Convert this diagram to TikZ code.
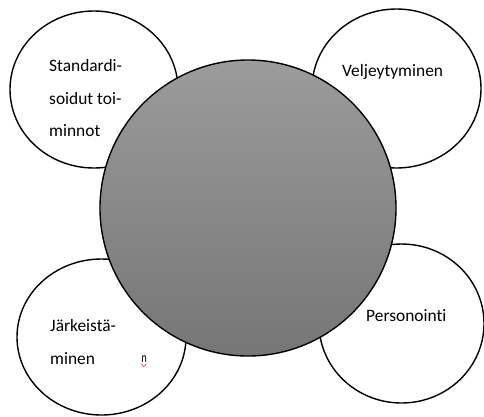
\documentclass[tikz,border=0pt]{standalone}
\usepackage{fontspec}
\setmainfont[Ligatures=NoCommon]{Carlito}
\usetikzlibrary{shapes.geometric}
\definecolor{gtop}{RGB}{155,155,155}
\definecolor{gbot}{RGB}{118,118,118}
\definecolor{squig}{RGB}{235,60,60}
\tikzset{
  bubble/.style={ellipse, draw=black, line width=1.4pt, fill=white, inner sep=0pt},
  hub/.style={circle, draw=black, line width=1.4pt, inner sep=0pt, top color=gtop, bottom color=gbot, minimum size=296pt},
  txt/.style={anchor=base west, inner sep=0pt, font=\fontsize{17.4}{20}\selectfont, text=black},
}
\begin{document}
\begin{tikzpicture}[x=1pt, y=-1pt]
\useasboundingbox (0,0) rectangle (484,416);
\fill[white] (0,0) rectangle (484,416);
% outer bubbles
\node[bubble, minimum width=168pt, minimum height=157pt] (tl) at (94,89.5) {};
\node[bubble, minimum width=169pt, minimum height=159pt] (tr) at (396.5,88.5) {};
\node[bubble, minimum width=169pt, minimum height=156pt] (bl) at (101.5,337) {};
\node[bubble, minimum width=165pt, minimum height=159pt] (br) at (401.5,323.5) {};
% central circle
\node[hub] (hub) at (248,208) {};
% texts
\node[txt] (s1) at (49,71) {Standardi-};
\node[txt] (s2) at (49,104) {soidut toi-};
\node[txt] (s3) at (49,136) {minnot};
\node[txt] (v1) at (342,76) {Veljeytyminen};
\node[txt] (j1) at (50,331) {Järkeistä-};
\node[txt] (j2) at (50,364) {minen};
\node[txt] (p1) at (366,321) {Personointi};
% small spell-check artifact
\node[anchor=base west, inner sep=0pt, xscale=0.7, font=\fontsize{14}{14}\selectfont] (art) at (141.5,362) {n};
\draw[squig, line width=0.7pt] (141.5,363.5) .. controls (142.5,367.5) and (144.5,367.5) .. (146,363.5);
\end{tikzpicture}
\end{document}
